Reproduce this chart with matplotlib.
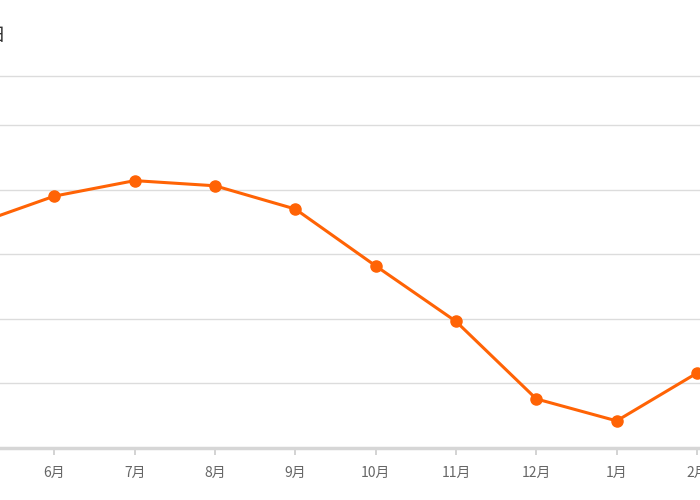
import numpy as np
from matplotlib import pyplot as plt

plt.rcParams['font.family'] = ['Noto Sans CJK SC', 'DejaVu Sans']

# data (first and last months are cut by the frame)
months = ['5月', '6月', '7月', '8月', '9月', '10月', '11月', '12月', '1月', '2月']
values = [17.3, 19.5, 20.7, 20.3, 18.5, 14.1, 9.8, 3.8, 2.1, 5.8]
y_ticks = [0, 5, 10, 15, 20, 25]
y_max = 28.8


def main():
    fig = plt.figure(figsize=[7, 5], dpi=100)
    ax = fig.add_axes([0, 52 / 500, 1, 372 / 500])

    x = np.arange(len(months))
    ax.plot(x, values, color='#ff6305', linewidth=2.2, marker='o',
            markersize=8, zorder=3)

    ax.set_xticks(x)
    ax.set_xticklabels(months, color='#666666', fontsize=10)
    ax.set_yticks(y_ticks)
    ax.set_yticklabels([])
    ax.tick_params(axis='y', length=0)
    ax.tick_params(axis='x', length=5, width=1.2, color='#cccccc', pad=8)

    # set limits after the ticks, otherwise set_xticks widens them
    step = 80.33
    ax.set_xlim(26 / step, (700 + 26) / step)
    ax.set_ylim(0, y_max)

    ax.grid(axis='y', color='#dcdcdc', linewidth=1)
    ax.set_axisbelow(True)
    for side in ['left', 'right']:
        ax.spines[side].set_visible(False)
    ax.spines['top'].set_color('#dcdcdc')
    ax.spines['top'].set_linewidth(1)
    ax.spines['bottom'].set_color('#d6d6d6')
    ax.spines['bottom'].set_linewidth(2.5)

    # title cut off at the left edge
    fig.text(5 / 700, 1 - 35 / 500, '日', ha='right', va='center',
             fontsize=13.5, color='#333333')

    fig.savefig('out.png')


if __name__ == '__main__':
    main()
